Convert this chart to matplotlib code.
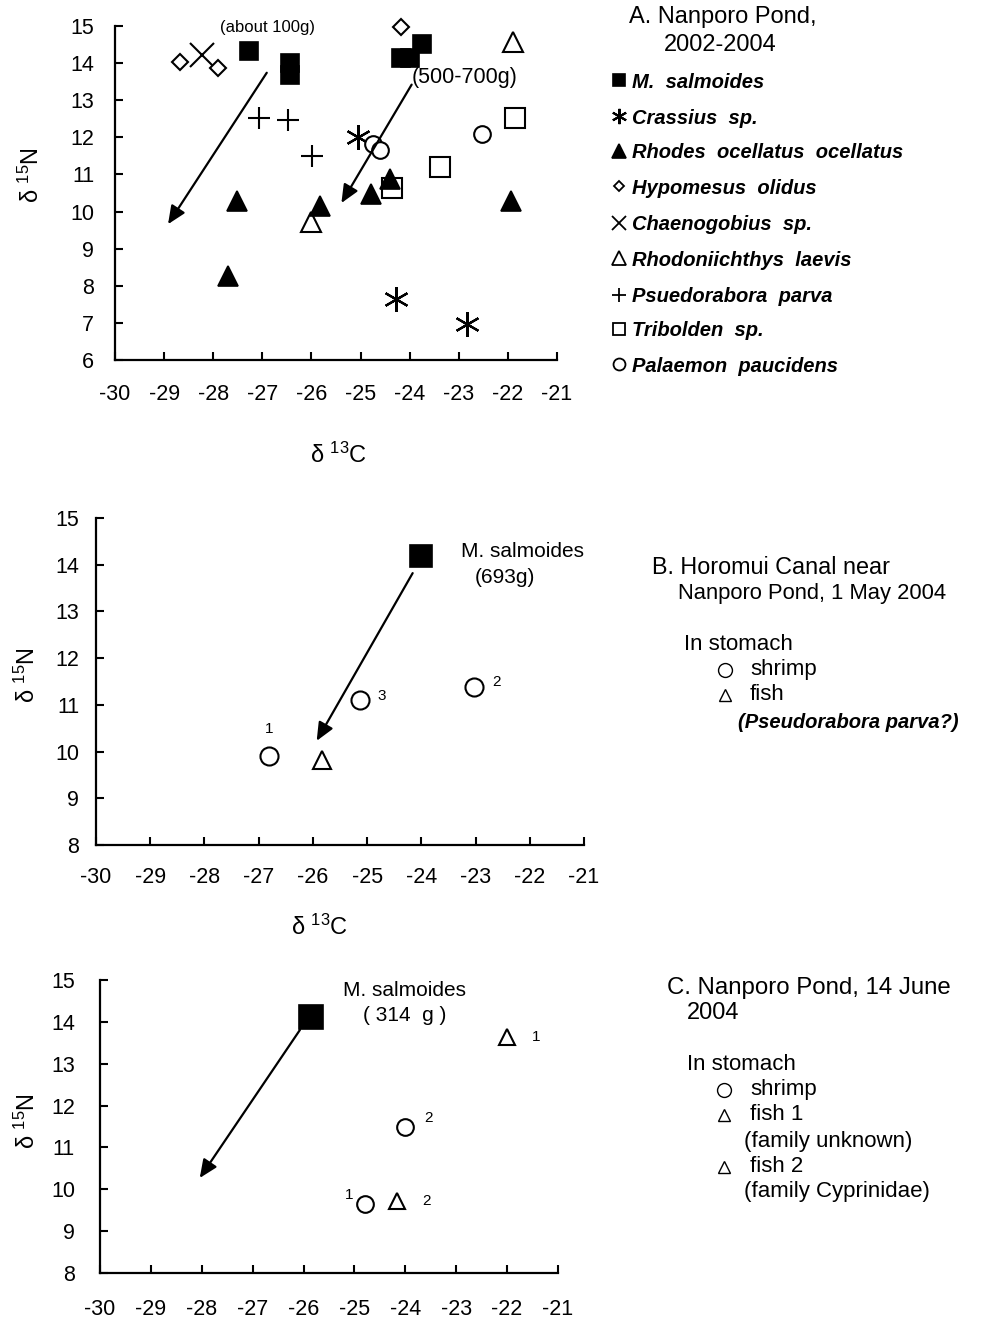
import matplotlib
matplotlib.use('Agg')
import matplotlib.pyplot as plt

plt.rcParams['font.family'] = ['Liberation Sans', 'DejaVu Sans']
plt.rcParams['mathtext.fontset'] = 'custom'
plt.rcParams['mathtext.rm'] = 'Liberation Sans'
plt.rcParams['mathtext.it'] = 'Liberation Sans:italic'

# ---- panel A data (d13C, d15N) ----
ms_c = [-27.28, -26.44, -26.44, -24.17, -24.0, -23.74]
ms_n = [14.33, 14.0, 13.68, 14.14, 14.14, 14.52]
crass_c = [-25.06, -24.27, -22.83]
crass_n = [12.0, 7.65, 6.98]
rhodes_c = [-27.52, -27.7, -25.83, -24.78, -24.41, -21.93]
rhodes_n = [10.28, 8.27, 10.15, 10.47, 10.87, 10.28]
hypo_c = [-28.68, -27.9, -24.17]
hypo_n = [14.03, 13.87, 14.97]
chaeno_c = [-28.23]
chaeno_n = [14.22]
rlaevis_c = [-26.0, -21.9]
rlaevis_n = [9.72, 14.57]
psued_c = [-27.07, -26.48, -25.98]
psued_n = [12.53, 12.48, 11.5]
trib_c = [-21.85, -23.39, -24.35]
trib_n = [12.53, 11.19, 10.63]
palae_c = [-24.74, -24.6, -22.52]
palae_n = [11.81, 11.65, 12.1]
arrowsA = [((-26.91, 13.74), (-28.92, 9.66)), ((-23.96, 13.42), (-25.39, 10.23))]

# ---- panel B data ----
b_bass = (-24.0, 14.18)
b_shrimp_c = [-26.81, -23.02, -25.13]
b_shrimp_n = [9.90, 11.39, 11.10]
b_shrimp_lab = ['1', '2', '3']
b_fish_c = [-25.84]
b_fish_n = [9.82]
arrowB = ((-24.16, 13.82), (-25.93, 10.23))

# ---- panel C data ----
c_bass = (-25.85, 14.12)
c_shrimp_c = [-24.8, -24.0]
c_shrimp_n = [9.65, 11.48]
c_shrimp_lab = ['1', '2']
c_fish_c = [-22.0, -24.16]
c_fish_n = [13.65, 9.71]
c_fish_lab = ['1', '2']
arrowC = ((-26.07, 13.81), (-28.04, 10.27))

xticks = list(range(-30, -20))
xtick_labels = ['-30', '-29', '-28', '-27', '-26', '-25', '-24', '-23', '-22', '-21']

W, H = 986, 1319


def box(l, t, r, b):
    return [l / W, 1 - b / H, (r - l) / W, (b - t) / H]


def style_axes(ax, ymin, ypad, xpad):
    ax.set_xlim(-30, -21)
    ax.set_ylim(ymin, 15)
    ax.set_xticks(xticks)
    ax.set_xticklabels(xtick_labels)
    ax.set_yticks(range(ymin, 16))
    for s in ['top', 'right']:
        ax.spines[s].set_visible(False)
    for s in ['left', 'bottom']:
        ax.spines[s].set_linewidth(1.6)
    ax.tick_params(direction='in', length=6, width=1.5, labelsize=15.5)
    ax.tick_params(axis='y', pad=ypad)
    ax.tick_params(axis='x', pad=xpad)
    ax.patch.set_alpha(0)


def arrow(ax, a):
    (x0, y0), (x1, y1) = a
    ax.annotate('', xy=(x1, y1), xytext=(x0, y0),
                arrowprops=dict(arrowstyle='-|>,head_length=0.5,head_width=0.22',
                                lw=1.6, color='black',
                                mutation_scale=22, shrinkA=0, shrinkB=0))


fig = plt.figure(figsize=(W / 100, H / 100), dpi=100)

# overlay for the side notes, in pixel coordinates
side = fig.add_axes([0, 0, 1, 1])
side.set_xlim(0, W)
side.set_ylim(H, 0)
side.axis('off')

ylab = 'δ $^{15}$N'
xlab = 'δ $^{13}$C'
open_kw = dict(mfc='white', mec='black', mew=1.5, ls='none', clip_on=False)
fill_kw = dict(mfc='black', mec='black', mew=1.2, ls='none', clip_on=False)
line_kw = dict(color='black', ls='none', clip_on=False)

# ---------------- panel A ----------------
axA = fig.add_axes(box(115, 26, 557, 360))
style_axes(axA, 6, 15, 17)
axA.plot(psued_c, psued_n, marker='+', ms=16, mew=1.5, **line_kw)
axA.plot(chaeno_c, chaeno_n, marker='x', ms=17, mew=1.5, **line_kw)
axA.plot(crass_c, crass_n, marker=(6, 2, 0), ms=18, mew=1.6, **line_kw)
axA.plot(hypo_c, hypo_n, marker='D', ms=8.5, **open_kw)
axA.plot(trib_c, trib_n, marker='s', ms=14, **open_kw)
axA.plot(palae_c, palae_n, marker='o', ms=12, **open_kw)
axA.plot(rlaevis_c, rlaevis_n, marker='^', ms=15, **open_kw)
axA.plot(rhodes_c, rhodes_n, marker='^', ms=15, **fill_kw)
axA.plot(ms_c, ms_n, marker='s', ms=13, **fill_kw)
for a in arrowsA:
    arrow(axA, a)
axA.text(-26.89, 14.95, '(about 100g)', fontsize=12, ha='center', va='center')
axA.text(-22.89, 13.6, '(500-700g)', fontsize=15.5, ha='center', va='center')
axA.set_ylabel(ylab, fontsize=17)
axA.yaxis.set_label_coords(-0.161, 0.554)
axA.set_xlabel(xlab, fontsize=17)
axA.xaxis.set_label_coords(0.505, -0.248)

side.text(629, 17, 'A. Nanporo Pond,', fontsize=17, va='center')
side.text(664, 45, '2002-2004', fontsize=17, va='center')
legA = [
    ('M.  salmoides', dict(marker='s', ms=8.6, **fill_kw)),
    ('Crassius  sp.', dict(marker=(6, 2, 0), ms=11, mew=1.5, **line_kw)),
    ('Rhodes  ocellatus  ocellatus', dict(marker='^', ms=10, **fill_kw)),
    ('Hypomesus  olidus', dict(marker='D', ms=5.6, mfc='white', mec='black', mew=1.3, ls='none')),
    ('Chaenogobius  sp.', dict(marker='x', ms=9.4, mew=1.3, **line_kw)),
    ('Rhodoniichthys  laevis', dict(marker='^', ms=9.4, mfc='white', mec='black', mew=1.3, ls='none')),
    ('Psuedorabora  parva', dict(marker='+', ms=10, mew=1.3, **line_kw)),
    ('Tribolden  sp.', dict(marker='s', ms=9, mfc='white', mec='black', mew=1.3, ls='none')),
    ('Palaemon  paucidens', dict(marker='o', ms=8.6, mfc='white', mec='black', mew=1.3, ls='none')),
]
leg_y = [82, 118, 153, 188, 225, 260, 297, 331, 366]
for (name, kw), y in zip(legA, leg_y):
    side.plot([619], [y - 2], **kw)
    side.text(632, y, name, fontsize=14.5, style='italic', weight='bold', va='center')

# ---------------- panel B ----------------
axB = fig.add_axes(box(96, 518, 584, 845))
style_axes(axB, 8, 12, 16)
axB.plot(b_shrimp_c, b_shrimp_n, marker='o', ms=13, **open_kw)
axB.plot(b_fish_c, b_fish_n, marker='^', ms=13, **open_kw)
axB.plot([b_bass[0]], [b_bass[1]], marker='s', ms=16, **fill_kw)
arrow(axB, arrowB)
for c, n, lab in zip(b_shrimp_c, b_shrimp_n, b_shrimp_lab):
    if lab == '1':
        axB.text(c, n + 0.58, lab, fontsize=11, ha='center', va='center')
    else:
        axB.text(c + 0.4, n + 0.1, lab, fontsize=11, ha='center', va='center')
axB.text(-22.14, 14.29, 'M. salmoides', fontsize=15, ha='center', va='center')
axB.text(-22.45, 13.72, '(693g)', fontsize=15, ha='center', va='center')
axB.set_ylabel(ylab, fontsize=17)
axB.yaxis.set_label_coords(-0.114, 0.52)
axB.set_xlabel(xlab, fontsize=17)
axB.xaxis.set_label_coords(0.459, -0.214)

side.text(652, 568, 'B. Horomui Canal near', fontsize=16.8, va='center')
side.text(678, 593, 'Nanporo Pond, 1 May 2004', fontsize=15.8, va='center')
side.text(684, 645, 'In stomach', fontsize=16, va='center')
side.plot([725], [670], marker='o', ms=10, mfc='white', mec='black', mew=1.0, ls='none')
side.text(750, 670, 'shrimp', fontsize=16, va='center')
side.plot([725], [695], marker='^', ms=8, mfc='white', mec='black', mew=1.0, ls='none')
side.text(750, 695, 'fish', fontsize=16, va='center')
side.text(738, 722, '(Pseudorabora parva?)', fontsize=14.5, style='italic', weight='bold', va='center')

# ---------------- panel C ----------------
axC = fig.add_axes(box(100, 980, 558, 1273))
style_axes(axC, 8, 18, 19)
axC.plot(c_shrimp_c, c_shrimp_n, marker='o', ms=12, **open_kw)
axC.plot(c_fish_c, c_fish_n, marker='^', ms=12, **open_kw)
axC.plot([c_bass[0]], [c_bass[1]], marker='s', ms=17, **fill_kw)
arrow(axC, arrowC)
axC.text(c_shrimp_c[0] - 0.3, c_shrimp_n[0] + 0.22, c_shrimp_lab[0], fontsize=11, ha='center', va='center')
axC.text(c_shrimp_c[1] + 0.45, c_shrimp_n[1] + 0.22, c_shrimp_lab[1], fontsize=11, ha='center', va='center')
for c, n, lab in zip(c_fish_c, c_fish_n, c_fish_lab):
    axC.text(c + 0.57, n, lab, fontsize=11, ha='center', va='center')
axC.text(-24.01, 14.76, 'M. salmoides', fontsize=15, ha='center', va='center')
axC.text(-24.01, 14.16, '( 314  g )', fontsize=15, ha='center', va='center')
axC.set_ylabel(ylab, fontsize=17)
axC.yaxis.set_label_coords(-0.131, 0.52)

side.text(667, 988, 'C. Nanporo Pond, 14 June', fontsize=17.3, va='center')
side.text(687, 1013, '2004', fontsize=17, va='center')
side.text(687, 1065, 'In stomach', fontsize=16, va='center')
side.plot([724], [1090], marker='o', ms=10, mfc='white', mec='black', mew=1.0, ls='none')
side.text(750, 1090, 'shrimp', fontsize=16, va='center')
side.plot([724], [1115], marker='^', ms=8, mfc='white', mec='black', mew=1.0, ls='none')
side.text(750, 1115, 'fish 1', fontsize=16, va='center')
side.text(744, 1141, '(family unknown)', fontsize=16, va='center')
side.plot([724], [1167], marker='^', ms=8, mfc='white', mec='black', mew=1.0, ls='none')
side.text(750, 1166, 'fish 2', fontsize=16, va='center')
side.text(744, 1192, '(family Cyprinidae)', fontsize=16, va='center')

fig.savefig('out.png', dpi=100)
